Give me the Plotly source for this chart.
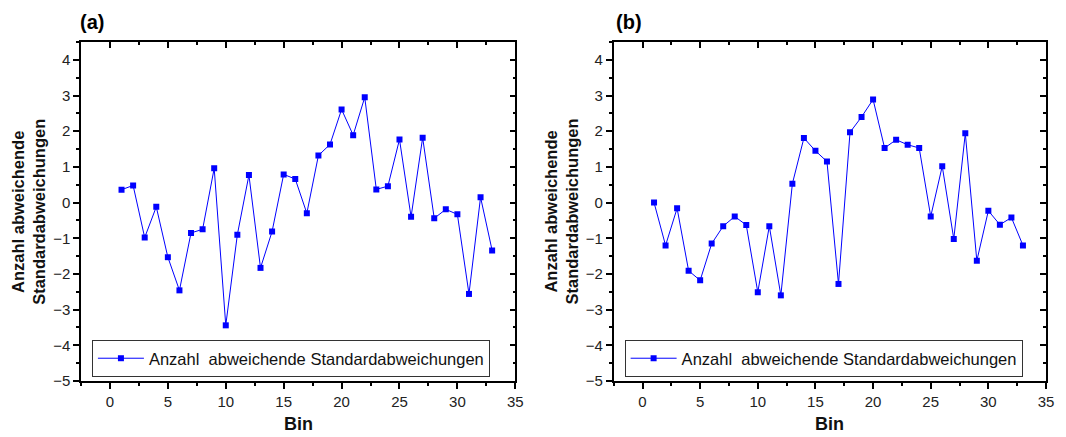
import plotly.graph_objects as go

# bin index (shared by both panels)
bins = list(range(1, 34))

# panel (a): number of deviating standard deviations
dev_a = [0.36, 0.48, -0.98, -0.12, -1.53, -2.46, -0.85, -0.75, 0.96, -3.44,
         -0.90, 0.77, -1.83, -0.81, 0.79, 0.66, -0.30, 1.32, 1.63, 2.61,
         1.89, 2.95, 0.37, 0.46, 1.77, -0.40, 1.82, -0.44, -0.19, -0.33,
         -2.56, 0.15, -1.34]

# panel (b)
dev_b = [0.0, -1.20, -0.16, -1.91, -2.18, -1.15, -0.66, -0.39, -0.63, -2.51,
         -0.66, -2.60, 0.53, 1.81, 1.45, 1.15, -2.28, 1.97, 2.40, 2.89,
         1.53, 1.76, 1.62, 1.53, -0.39, 1.02, -1.02, 1.94, -1.63, -0.23,
         -0.62, -0.42, -1.20]

series_name = "Anzahl\u00a0 abweichende Standardabweichungen"
panel_labels = ["(a)", "(b)"]
y_title = "Anzahl abweichende<br>Standardabweichungen"

FONT = "Liberation Sans, Arial, sans-serif"
BLUE = "#0000ff"

# pixel geometry of the 1066x437 canvas
W, H = 1066, 437
ML, MR, MT, MB = 81, 14, 42, 56
PW = W - ML - MR
PH = H - MT - MB
dom_a = [0.0, (518 - ML) / PW]
dom_b = [(617 - ML) / PW, 1.0]

fig = go.Figure()

axis_common = dict(
    showline=True, linecolor="black", linewidth=1.5,
    showgrid=False, zeroline=False,
    tickfont=dict(family=FONT, size=15, color="#222"),
    tickcolor="black",
)

for i, (ys, dom) in enumerate([(dev_a, dom_a), (dev_b, dom_b)]):
    n = "" if i == 0 else "2"
    fig.add_trace(go.Scatter(
        x=bins, y=ys, mode="lines+markers", name=series_name,
        line=dict(color=BLUE, width=1),
        marker=dict(symbol="square", size=6, color=BLUE),
        xaxis="x" + n, yaxis="y" + n,
        legend="legend" + n,
    ))
    # invisible trace that anchors the mirrored (inward tick) axes
    o = str(3 + 2 * i)
    p = str(4 + 2 * i)
    fig.add_trace(go.Scatter(
        x=[None], y=[None], xaxis="x" + o, yaxis="y" + p,
        showlegend=False, hoverinfo="skip",
    ))

    fig.layout["xaxis" + n] = dict(
        axis_common, domain=dom, anchor="y" + n, range=[-2.5, 35],
        dtick=5, tick0=0, ticks="outside", ticklen=6, tickwidth=1.5,
        minor=dict(dtick=2.5, ticks="outside", ticklen=3, tickcolor="black"),
    )
    fig.layout["yaxis" + n] = dict(
        axis_common, domain=[0, 1], anchor="x" + n, range=[-5, 4.5],
        dtick=1, tick0=0, ticks="outside", ticklen=6, tickwidth=1.5,
        minor=dict(dtick=0.5, ticks="outside", ticklen=3, tickcolor="black"),
    )
    fig.layout["xaxis" + o] = dict(
        axis_common, domain=dom, anchor="y" + p, overlaying="x" + n,
        side="top", range=[-2.5, 35], showticklabels=False,
        dtick=5, tick0=0, ticks="inside", ticklen=6, tickwidth=1.5,
        minor=dict(dtick=2.5, ticks="inside", ticklen=3, tickcolor="black"),
    )
    fig.layout["yaxis" + p] = dict(
        axis_common, domain=[0, 1], anchor="x" + o, overlaying="y" + n,
        side="right", range=[-5, 4.5], showticklabels=False,
        dtick=1, tick0=0, ticks="inside", ticklen=6, tickwidth=1.5,
        minor=dict(dtick=0.5, ticks="inside", ticklen=3, tickcolor="black"),
    )

    x0 = dom[0] + 11 / PW
    fig.layout["legend" + n] = dict(
        x=x0, y=(381 - 340) / PH, xanchor="left", yanchor="top",
        bgcolor="white", bordercolor="#333", borderwidth=1,
        font=dict(family=FONT, size=16.5, color="#111"),
        itemwidth=46,
    )

    mid = (dom[0] + dom[1]) / 2
    fig.add_annotation(
        text="<b>Bin</b>", x=mid, y=-(424 - 381) / PH,
        xref="paper", yref="paper", xanchor="center", yanchor="middle",
        showarrow=False, font=dict(family=FONT, size=18, color="#111"),
    )
    title_px = 28 if i == 0 else 564
    fig.add_annotation(
        text="<b>" + y_title + "</b>", x=(title_px - ML) / PW, y=0.5,
        xref="paper", yref="paper", xanchor="center", yanchor="middle",
        textangle=-90, showarrow=False,
        font=dict(family=FONT, size=16.5, color="#111"),
    )
    lab_px = 78 if i == 0 else 617
    fig.add_annotation(
        text="<b>" + panel_labels[i] + "</b>", x=(lab_px - ML) / PW,
        y=(381 - 22) / PH, xref="paper", yref="paper",
        xanchor="left", yanchor="middle", showarrow=False,
        font=dict(family=FONT, size=20, color="black"),
    )

fig.update_layout(
    width=W, height=H,
    margin=dict(l=ML, r=MR, t=MT, b=MB),
    paper_bgcolor="white", plot_bgcolor="white",
    showlegend=True,
)

fig.write_html(
    "out.html",
    config={"displayModeBar": False},
    post_script="document.body.style.margin='0';",
)
